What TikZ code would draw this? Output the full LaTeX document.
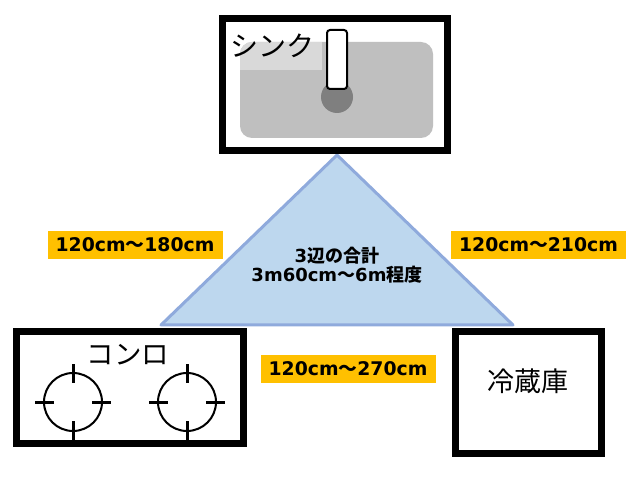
\documentclass[tikz,border=0pt]{standalone}
\usepackage{fontspec}
\setmainfont{Noto Sans CJK JP}
\newfontfamily\lat{DejaVu Sans}
\newcommand{\lt}[1]{{\lat\bfseries #1}}
\definecolor{triFill}{HTML}{BDD7EE}
\definecolor{triLine}{HTML}{8FAADC}
\definecolor{labYellow}{HTML}{FFC000}
\definecolor{basin}{HTML}{BFBFBF}
\definecolor{basinLight}{HTML}{D9D9D9}
\definecolor{drain}{HTML}{7F7F7F}
\tikzset{
  unitbox/.style={draw=black, line width=7pt, fill=white},
  lab/.style={fill=labYellow, minimum width=175pt, minimum height=28pt, inner sep=0pt, font=\fontsize{18.8}{18.8}\selectfont\bfseries},
  burner/.style={draw=black, line width=2pt},
  tick/.style={draw=black, line width=3pt},
  jtext/.style={inner sep=0pt, font=\fontsize{28}{28}\selectfont}
}
\begin{document}
\begin{tikzpicture}[x=1pt,y=-1pt]
\useasboundingbox (0,0) rectangle (640,486);
% triangle
\coordinate (apex) at (337,155);
\coordinate (bl) at (161,325);
\coordinate (br) at (513,325);
\filldraw[fill=triFill, draw=triLine, line width=3pt, line join=round] (apex) -- (bl) -- (br) -- cycle;
\node[inner sep=0pt, align=center, font=\fontsize{18}{19.5}\selectfont\bfseries] (total) at (337,265) {\lt{3}辺の合計\\\lt{3m60cm}〜\lt{6m}程度};
% sink
\draw[unitbox] (222.5,18.5) rectangle (447.5,150.5);
\fill[basin, rounded corners=12pt] (240,42) rectangle (433,138);
\begin{scope}
\clip[rounded corners=12pt] (240,42) rectangle (433,138);
\fill[basinLight] (240,42) rectangle (322,70);
\end{scope}
\node[jtext] (sinktxt) at (272,46) {シンク};
\fill[drain] (337,97) circle (16pt);
\filldraw[fill=white, draw=black, line width=2pt, rounded corners=3pt] (327,30) rectangle (347,89);
% stove
\draw[unitbox] (16.5,331.5) rectangle (243.5,443.5);
\node[jtext, font=\fontsize{27.5}{27.5}\selectfont] (stovetxt) at (128,355) {コンロ};
\foreach \cx/\nm in {73/b1,187/b2}{
  \draw[burner] (\cx,402) circle (29pt);
  \draw[tick] (\cx-38,402) -- (\cx-19,402);
  \draw[tick] (\cx+19,402) -- (\cx+38,402);
  \draw[tick] (\cx,364) -- (\cx,383);
  \draw[tick] (\cx,421) -- (\cx,440);
}
% fridge
\draw[unitbox] (455.5,331.5) rectangle (601.5,453.5);
\node[jtext, font=\fontsize{27}{27}\selectfont] (fridgetxt) at (528,381) {冷蔵庫};
% labels
\node[lab] (l1) at (135,245) {\lt{120cm}〜\lt{180cm}};
\node[lab] (l2) at (538.5,245) {\lt{120cm}〜\lt{210cm}};
\node[lab] (l3) at (348,369) {\lt{120cm}〜\lt{270cm}};
\end{tikzpicture}
\end{document}
